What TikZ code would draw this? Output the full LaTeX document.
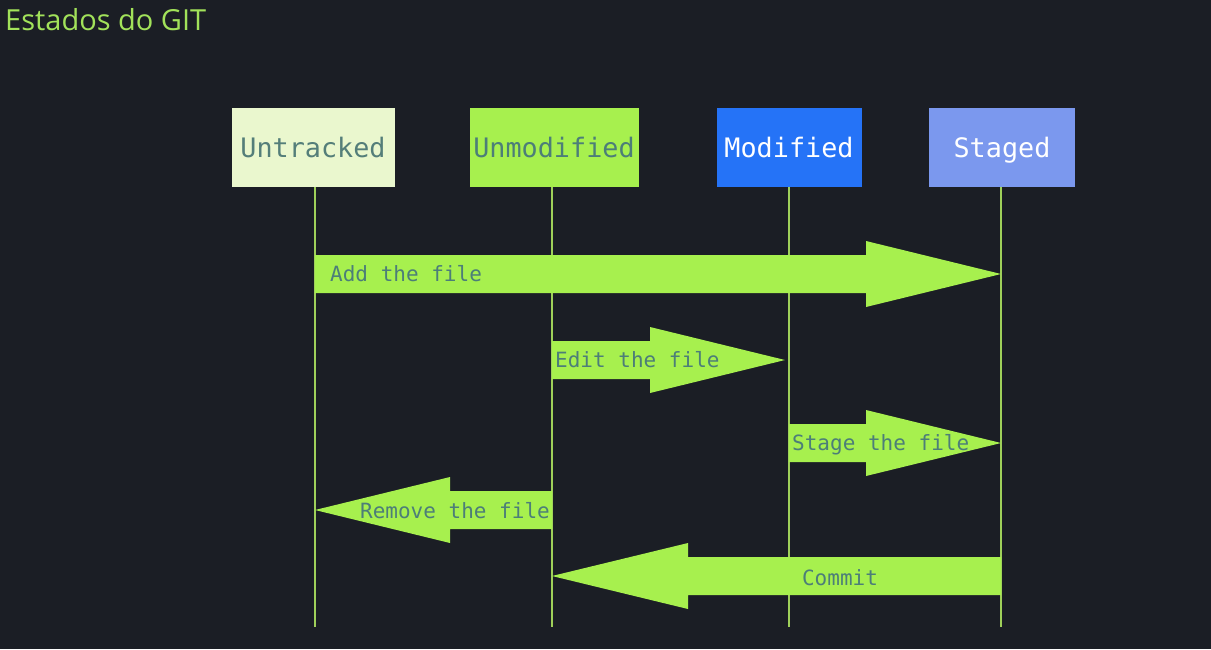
\documentclass[tikz,border=0pt]{standalone}
\usepackage{fontspec}
\usepackage{tikz}
\usetikzlibrary{positioning}
\setmainfont{Open Sans}
\newfontfamily\codefont{DejaVu Sans Mono}

\definecolor{bgdark}{HTML}{1B1E25}
\definecolor{titlegreen}{HTML}{A2E25A}
\definecolor{lime}{HTML}{A7F04E}
\definecolor{paleyellow}{HTML}{EAF7CE}
\definecolor{gitblue}{HTML}{2573F7}
\definecolor{lavender}{HTML}{7B98EE}
\definecolor{tealtext}{HTML}{4C7E78}
\definecolor{lifegreen}{HTML}{9FD05A}

% block arrow between two lifelines: from, to, y, x of the head base
\newcommand{\flowarrow}[4]{%
\fill[flow] (#1 |- 0,#3-19) -- (#4,#3-19) -- (#4,#3-33) -- (#2 |- 0,#3)
  -- (#4,#3+33) -- (#4,#3+19) -- (#1 |- 0,#3+19) -- cycle;}

\begin{document}
\begin{tikzpicture}[x=1pt, y=-1pt,
  state/.style={minimum height=79pt, inner sep=0pt, text height=20pt, text depth=0pt,
    font=\codefont\fontsize{26.8}{26.8}\selectfont},
  lifeline/.style={draw=lifegreen, line width=1.4pt},
  flow/.style={fill=lime},
  flowtext/.style={text=tealtext, inner sep=0pt, text height=14pt, text depth=0pt,
    font=\codefont\fontsize{21}{21}\selectfont}]
\useasboundingbox[fill=bgdark] (0,0) rectangle (1211,649);

\node[anchor=base west, inner sep=0pt, text=titlegreen, font=\fontsize{29}{29}\selectfont] (title) at (5,30) {Estados do GIT};

\node[state, fill=paleyellow, text=tealtext!85!gray, minimum width=163pt] (untracked) at (313,147) {Untracked};
\node[state, fill=lime, text=tealtext, minimum width=169pt] (unmodified) at (554,147) {Unmodified};
\node[state, fill=gitblue, text=white, minimum width=145pt] (modified) at (789,147) {Modified};
\node[state, fill=lavender, text=white, minimum width=146pt] (staged) at (1002,147) {Staged};

% lifelines
\coordinate (uend) at (315,627);
\coordinate (nend) at (552,627);
\coordinate (mend) at (789,627);
\coordinate (send) at (1001,627);
\draw[lifeline] (untracked.south -| uend) -- (uend);
\draw[lifeline] (unmodified.south -| nend) -- (nend);
\draw[lifeline] (modified.south -| mend) -- (mend);
\draw[lifeline] (staged.south -| send) -- (send);

% messages
\flowarrow{uend}{send}{274}{866}
\flowarrow{nend}{785,0}{360}{650}
\flowarrow{mend}{send}{443}{866}
\flowarrow{nend}{uend}{510}{450}
\flowarrow{send}{nend}{576}{688}

\node[flowtext, anchor=west] (add) at (330,274) {Add the file};
\node[flowtext, anchor=west] (edit) at (555,360) {Edit the file};
\node[flowtext, anchor=west] (stage) at (792,443) {Stage the file};
\node[flowtext, anchor=east] (remove) at (550,511) {Remove the file};
\node[flowtext] (commit) at (840,578) {Commit};

\end{tikzpicture}
\end{document}
